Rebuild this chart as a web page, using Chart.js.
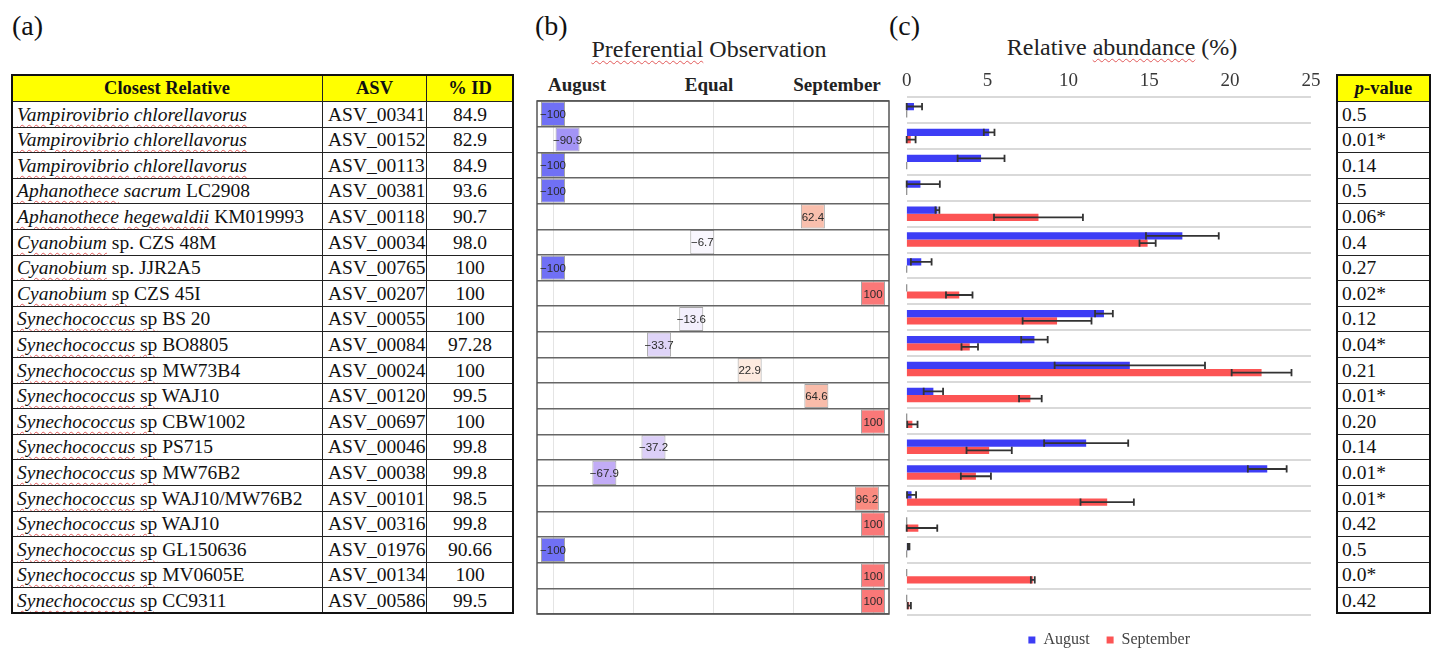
<!DOCTYPE html>
<html>
<head>
<meta charset="utf-8">
<script src="https://cdn.jsdelivr.net/npm/chart.js@4.4.1/dist/chart.umd.min.js"></script>
<style>
  html, body { margin: 0; padding: 0; background: #fff; }
  #page { position: relative; width: 1431px; height: 648px; overflow: hidden; font-family: "Liberation Serif", "Times New Roman", serif; color: #111; }
  .lbl { position: absolute; font-size: 28px; line-height: 1; }
  .ttl { position: absolute; font-size: 24px; line-height: 1; transform: translateX(-50%); white-space: nowrap; color: #222; }
  .hd { position: absolute; font-size: 19px; line-height: 1; font-weight: bold; transform: translateX(-50%); white-space: nowrap; color: #222; }
  .cell { position: absolute; box-sizing: border-box; border: 1px solid #222; display: flex; align-items: center; font-size: 19.5px; line-height: 1; white-space: pre; overflow: hidden; padding: 0 5px; }
  .head { background: #ffff00; font-weight: bold; font-size: 18.5px; justify-content: center; }
  .center { justify-content: center; }
  .frame { position: absolute; box-sizing: border-box; border: 2px solid #111; pointer-events: none; }
  .sp { text-decoration: underline wavy #e25a5a; text-decoration-thickness: 1px; text-underline-offset: 3px; }
  canvas { position: absolute; }
</style>
</head>
<body>
<div id="page">
  <div class="lbl" style="left:12px;top:12px">(a)</div>
  <div class="lbl" style="left:535px;top:12px">(b)</div>
  <div class="lbl" style="left:889px;top:12px">(c)</div>
  <div class="ttl" style="left:709px;top:37px"><span class="sp">Preferential</span> Observation</div>
  <div class="ttl" style="left:1122px;top:35px">Relative <span class="sp">abundance</span> (%)</div>
  <div class="hd" style="left:577px;top:75px">August</div>
  <div class="hd" style="left:709px;top:75px">Equal</div>
  <div class="hd" style="left:837px;top:75px">September</div>
  <div id="tables"></div>
  <canvas id="prefChart" width="356" height="517" style="left:535px;top:99px"></canvas>
  <canvas id="abundChart" width="445" height="598" style="left:880px;top:60px"></canvas>
</div>
<script>
// TABLE DATA
const relItalic = [
  "Vampirovibrio chlorellavorus", "Vampirovibrio chlorellavorus", "Vampirovibrio chlorellavorus",
  "Aphanothece sacrum", "Aphanothece hegewaldii", "Cyanobium", "Cyanobium", "Cyanobium",
  "Synechococcus", "Synechococcus", "Synechococcus", "Synechococcus", "Synechococcus", "Synechococcus",
  "Synechococcus", "Synechococcus", "Synechococcus", "Synechococcus", "Synechococcus", "Synechococcus"
];
const relRest = [
  "", "", "", " LC2908", " KM019993", " sp. CZS 48M", " sp. JJR2A5", " sp CZS 45I",
  " sp BS 20", " sp BO8805", " sp MW73B4", " sp WAJ10", " sp CBW1002", " sp PS715",
  " sp MW76B2", " sp WAJ10/MW76B2", " sp WAJ10", " sp GL150636", " sp MV0605E", " sp CC9311"
];
const asvIds = [
  "ASV_00341", "ASV_00152", "ASV_00113", "ASV_00381", "ASV_00118", "ASV_00034", "ASV_00765",
  "ASV_00207", "ASV_00055", "ASV_00084", "ASV_00024", "ASV_00120", "ASV_00697", "ASV_00046",
  "ASV_00038", "ASV_00101", "ASV_00316", "ASV_01976", "ASV_00134", "ASV_00586"
];
const pctId = ["84.9", "82.9", "84.9", "93.6", "90.7", "98.0", "100", "100", "100", "97.28",
  "100", "99.5", "100", "99.8", "99.8", "98.5", "99.8", "90.66", "100", "99.5"];
const pValues = ["0.5", "0.01*", "0.14", "0.5", "0.06*", "0.4", "0.27", "0.02*", "0.12", "0.04*",
  "0.21", "0.01*", "0.20", "0.14", "0.01*", "0.01*", "0.42", "0.5", "0.0*", "0.42"];

// (b) preferential observation, -100 = August only, 100 = September only
const prefValues = [-100, -90.9, -100, -100, 62.4, -6.7, -100, 100, -13.6, -33.7,
  22.9, 64.6, 100, -37.2, -67.9, 96.2, 100, -100, 100, 100];
const prefTicks = [-100, -50, 0, 50, 100];

// (c) relative abundance (%), mean and sd
const seriesNames = ["August", "September"];
const augMean = [0.45, 5.1, 4.6, 0.85, 1.9, 17.05, 0.9, 0, 12.2, 7.9, 13.8, 1.65, 0, 11.1, 22.3, 0.3, 0, 0.12, 0, 0];
const augSd   = [0.5, 0.33, 1.45, 1.2, 0.12, 2.25, 0.64, 0, 0.55, 0.82, 4.65, 0.6, 0, 2.6, 1.2, 0.28, 0, 0.05, 0, 0];
const sepMean = [0, 0.25, 0, 0, 8.15, 14.9, 0, 3.25, 9.3, 3.9, 21.95, 7.65, 0.35, 5.1, 4.28, 12.4, 0.72, 0, 7.8, 0.16];
const sepSd   = [0, 0.3, 0, 0, 2.75, 0.5, 0, 0.82, 2.13, 0.51, 1.85, 0.7, 0.32, 1.4, 0.93, 1.65, 1.17, 0, 0.12, 0.1];

// LAYOUT
const ROW_TOP = 101, ROW_H = 25.6, HEAD_TOP = 74;
const tablesEl = document.getElementById("tables");

function cell(x, y, w, h, html, cls) {
    const d = document.createElement("div");
    d.className = "cell " + (cls || "");
    d.style.cssText = `left:${x}px;top:${y}px;width:${w}px;height:${h}px`;
    d.innerHTML = `<span>${html}</span>`;
    tablesEl.appendChild(d);
}

function frame(x, y, w, h) {
    const d = document.createElement("div");
    d.className = "frame";
    d.style.cssText = `left:${x}px;top:${y}px;width:${w}px;height:${h}px`;
    tablesEl.appendChild(d);
}

function relHtml(i) {
    const it = relItalic[i].split(" ")
        .map(w => w === "sacrum" ? w : `<span class="sp">${w}</span>`).join(" ");
    let rest = relRest[i];
    if (rest.startsWith(" sp ")) rest = ` <span class="sp">sp</span>` + rest.slice(3);
    return `<i>${it}</i>${rest}`;
}

// table (a)
const colX = [11, 322, 426, 514];
const tableBottom = ROW_TOP + ROW_H * asvIds.length;
cell(colX[0], HEAD_TOP, colX[1] - colX[0] + 1, ROW_TOP - HEAD_TOP + 1, "Closest Relative", "head");
cell(colX[1], HEAD_TOP, colX[2] - colX[1] + 1, ROW_TOP - HEAD_TOP + 1, "ASV", "head");
cell(colX[2], HEAD_TOP, colX[3] - colX[2], ROW_TOP - HEAD_TOP + 1, "% ID", "head");
asvIds.forEach((asv, i) => {
    const y = Math.round(ROW_TOP + i * ROW_H);
    const h = Math.round(ROW_TOP + (i + 1) * ROW_H) - y + 1;
    cell(colX[0], y, colX[1] - colX[0] + 1, h, relHtml(i));
    cell(colX[1], y, colX[2] - colX[1] + 1, h, asv);
    cell(colX[2], y, colX[3] - colX[2], h, pctId[i], "center");
});
frame(colX[0], HEAD_TOP, colX[3] - colX[0], tableBottom - HEAD_TOP + 1);

// p-value table
const pX = 1336, pW = 95;
cell(pX, HEAD_TOP, pW, ROW_TOP - HEAD_TOP + 1, "<i>p</i>-value", "head");
pValues.forEach((p, i) => {
    const y = Math.round(ROW_TOP + i * ROW_H);
    const h = Math.round(ROW_TOP + (i + 1) * ROW_H) - y + 1;
    cell(pX, y, pW, h, p);
});
frame(pX, HEAD_TOP, pW, tableBottom - HEAD_TOP + 1);

// --- (b) PREFERENTIAL OBSERVATION ---
const BOX_HALF = 7.5; // half box width in axis units
const negStops = [[0, [255, 255, 255]], [0.15, [242, 237, 252]], [0.35, [222, 210, 248]],
    [0.7, [192, 170, 246]], [0.9, [168, 152, 246]], [1, [112, 112, 245]]];
const posStops = [[0, [255, 255, 255]], [0.25, [253, 232, 220]], [0.63, [249, 190, 172]],
    [0.96, [250, 140, 128]], [1, [250, 120, 120]]];

function prefColor(v) {
    const stops = v < 0 ? negStops : posStops;
    const t = Math.abs(v) / 100;
    for (let k = 1; k < stops.length; k++) {
        if (t <= stops[k][0]) {
            const [t0, c0] = stops[k - 1], [t1, c1] = stops[k];
            const f = (t - t0) / (t1 - t0);
            const c = c0.map((ch, j) => Math.round(ch + (c1[j] - ch) * f));
            return `rgb(${c[0]},${c[1]},${c[2]})`;
        }
    }
    const c = stops[stops.length - 1][1];
    return `rgb(${c[0]},${c[1]},${c[2]})`;
}

const boxLabels = {
    id: "boxLabels",
    afterDatasetsDraw(chart) {
        const ctx = chart.ctx;
        ctx.save();
        ctx.font = "11.5px 'Liberation Sans', Arial, sans-serif";
        ctx.fillStyle = "#2a2a2a";
        ctx.textAlign = "center";
        ctx.textBaseline = "middle";
        chart.getDatasetMeta(0).data.forEach((bar, i) => {
            const p = bar.getProps(["x", "y", "base"], true);
            const v = prefValues[i];
            const txt = (v < 0 ? "\u2212" : "") + Math.abs(v);
            ctx.fillText(txt, (p.x + p.base) / 2, p.y + 1);
        });
        ctx.restore();
    }
};

const areaFrame = {
    id: "areaFrame",
    afterDraw(chart) {
        const { ctx, chartArea: a } = chart;
        ctx.save();
        ctx.strokeStyle = "#555";
        ctx.lineWidth = 1.5;
        ctx.strokeRect(a.left, a.top, a.right - a.left, a.bottom - a.top);
        ctx.restore();
    }
};

new Chart(document.getElementById("prefChart"), {
    type: "bar",
    data: {
        labels: asvIds,
        datasets: [{
            data: prefValues.map(v => [v - BOX_HALF, v + BOX_HALF]),
            backgroundColor: prefValues.map(prefColor),
            borderColor: "rgba(90,90,90,0.55)",
            borderWidth: 1,
            borderSkipped: false,
            categoryPercentage: 1,
            barPercentage: 0.94
        }]
    },
    options: {
        indexAxis: "y",
        responsive: false,
        animation: false,
        layout: { padding: 2 },
        plugins: { legend: { display: false }, tooltip: { enabled: false } },
        scales: {
            x: {
                min: -110, max: 110,
                afterBuildTicks: s => { s.ticks = prefTicks.map(v => ({ value: v })); },
                ticks: { display: false },
                grid: { color: "#e4e4e4", lineWidth: 1, drawTicks: false },
                border: { display: false }
            },
            y: {
                ticks: { display: false },
                grid: { color: "#666", lineWidth: 1.5, drawTicks: false },
                border: { display: false }
            }
        }
    },
    plugins: [boxLabels, areaFrame]
});

// --- (c) RELATIVE ABUNDANCE ---
const sdSeries = [augSd, sepSd];

const errorBars = {
    id: "errorBars",
    afterDatasetsDraw(chart) {
        const { ctx } = chart;
        const xs = chart.scales.x;
        ctx.save();
        chart.data.datasets.forEach((ds, di) => {
            chart.getDatasetMeta(di).data.forEach((bar, i) => {
                const p = bar.getProps(["x", "y", "height"], true);
                const m = ds.data[i], sd = sdSeries[di][i];
                const top = p.y - p.height / 2, bot = p.y + p.height / 2;
                ctx.beginPath();
                if (m === 0 && sd === 0) {
                    // empty bar: thin stub on the axis
                    const x0 = xs.getPixelForValue(0);
                    ctx.strokeStyle = "#8a8a8a";
                    ctx.lineWidth = 1.2;
                    ctx.moveTo(x0, top);
                    ctx.lineTo(x0, bot);
                    ctx.stroke();
                    return;
                }
                const lo = xs.getPixelForValue(Math.max(0, m - sd));
                const hi = xs.getPixelForValue(m + sd);
                ctx.strokeStyle = "#333";
                ctx.lineWidth = 1.8;
                ctx.moveTo(lo, p.y); ctx.lineTo(hi, p.y);
                ctx.moveTo(lo, top); ctx.lineTo(lo, bot);
                ctx.moveTo(hi, top); ctx.lineTo(hi, bot);
                ctx.stroke();
            });
        });
        ctx.restore();
    }
};

new Chart(document.getElementById("abundChart"), {
    type: "bar",
    data: {
        labels: asvIds,
        datasets: [
            { label: seriesNames[0], data: augMean, backgroundColor: "#3d3df5", categoryPercentage: 0.56, barPercentage: 1 },
            { label: seriesNames[1], data: sepMean, backgroundColor: "#fc5454", categoryPercentage: 0.56, barPercentage: 1 }
        ]
    },
    options: {
        indexAxis: "y",
        responsive: false,
        animation: false,
        layout: { padding: { left: 26.7, right: 13.3, top: 5.2, bottom: 0 } },
        plugins: {
            tooltip: { enabled: false },
            legend: {
                position: "bottom",
                labels: {
                    boxWidth: 7, boxHeight: 7, padding: 17, color: "#444",
                    font: { family: "'Liberation Serif', serif", size: 16 }
                }
            }
        },
        scales: {
            x: {
                position: "top",
                min: 0, max: 25,
                ticks: { stepSize: 5, padding: 4.6, color: "#383838", font: { family: "'Liberation Serif', serif", size: 19 } },
                grid: { display: false, drawTicks: false },
                border: { display: false }
            },
            y: {
                ticks: { display: false },
                grid: { color: "#d9d9d9", lineWidth: 2, drawTicks: false },
                border: { display: false }
            }
        }
    },
    plugins: [errorBars]
});
</script>
</body>
</html>
